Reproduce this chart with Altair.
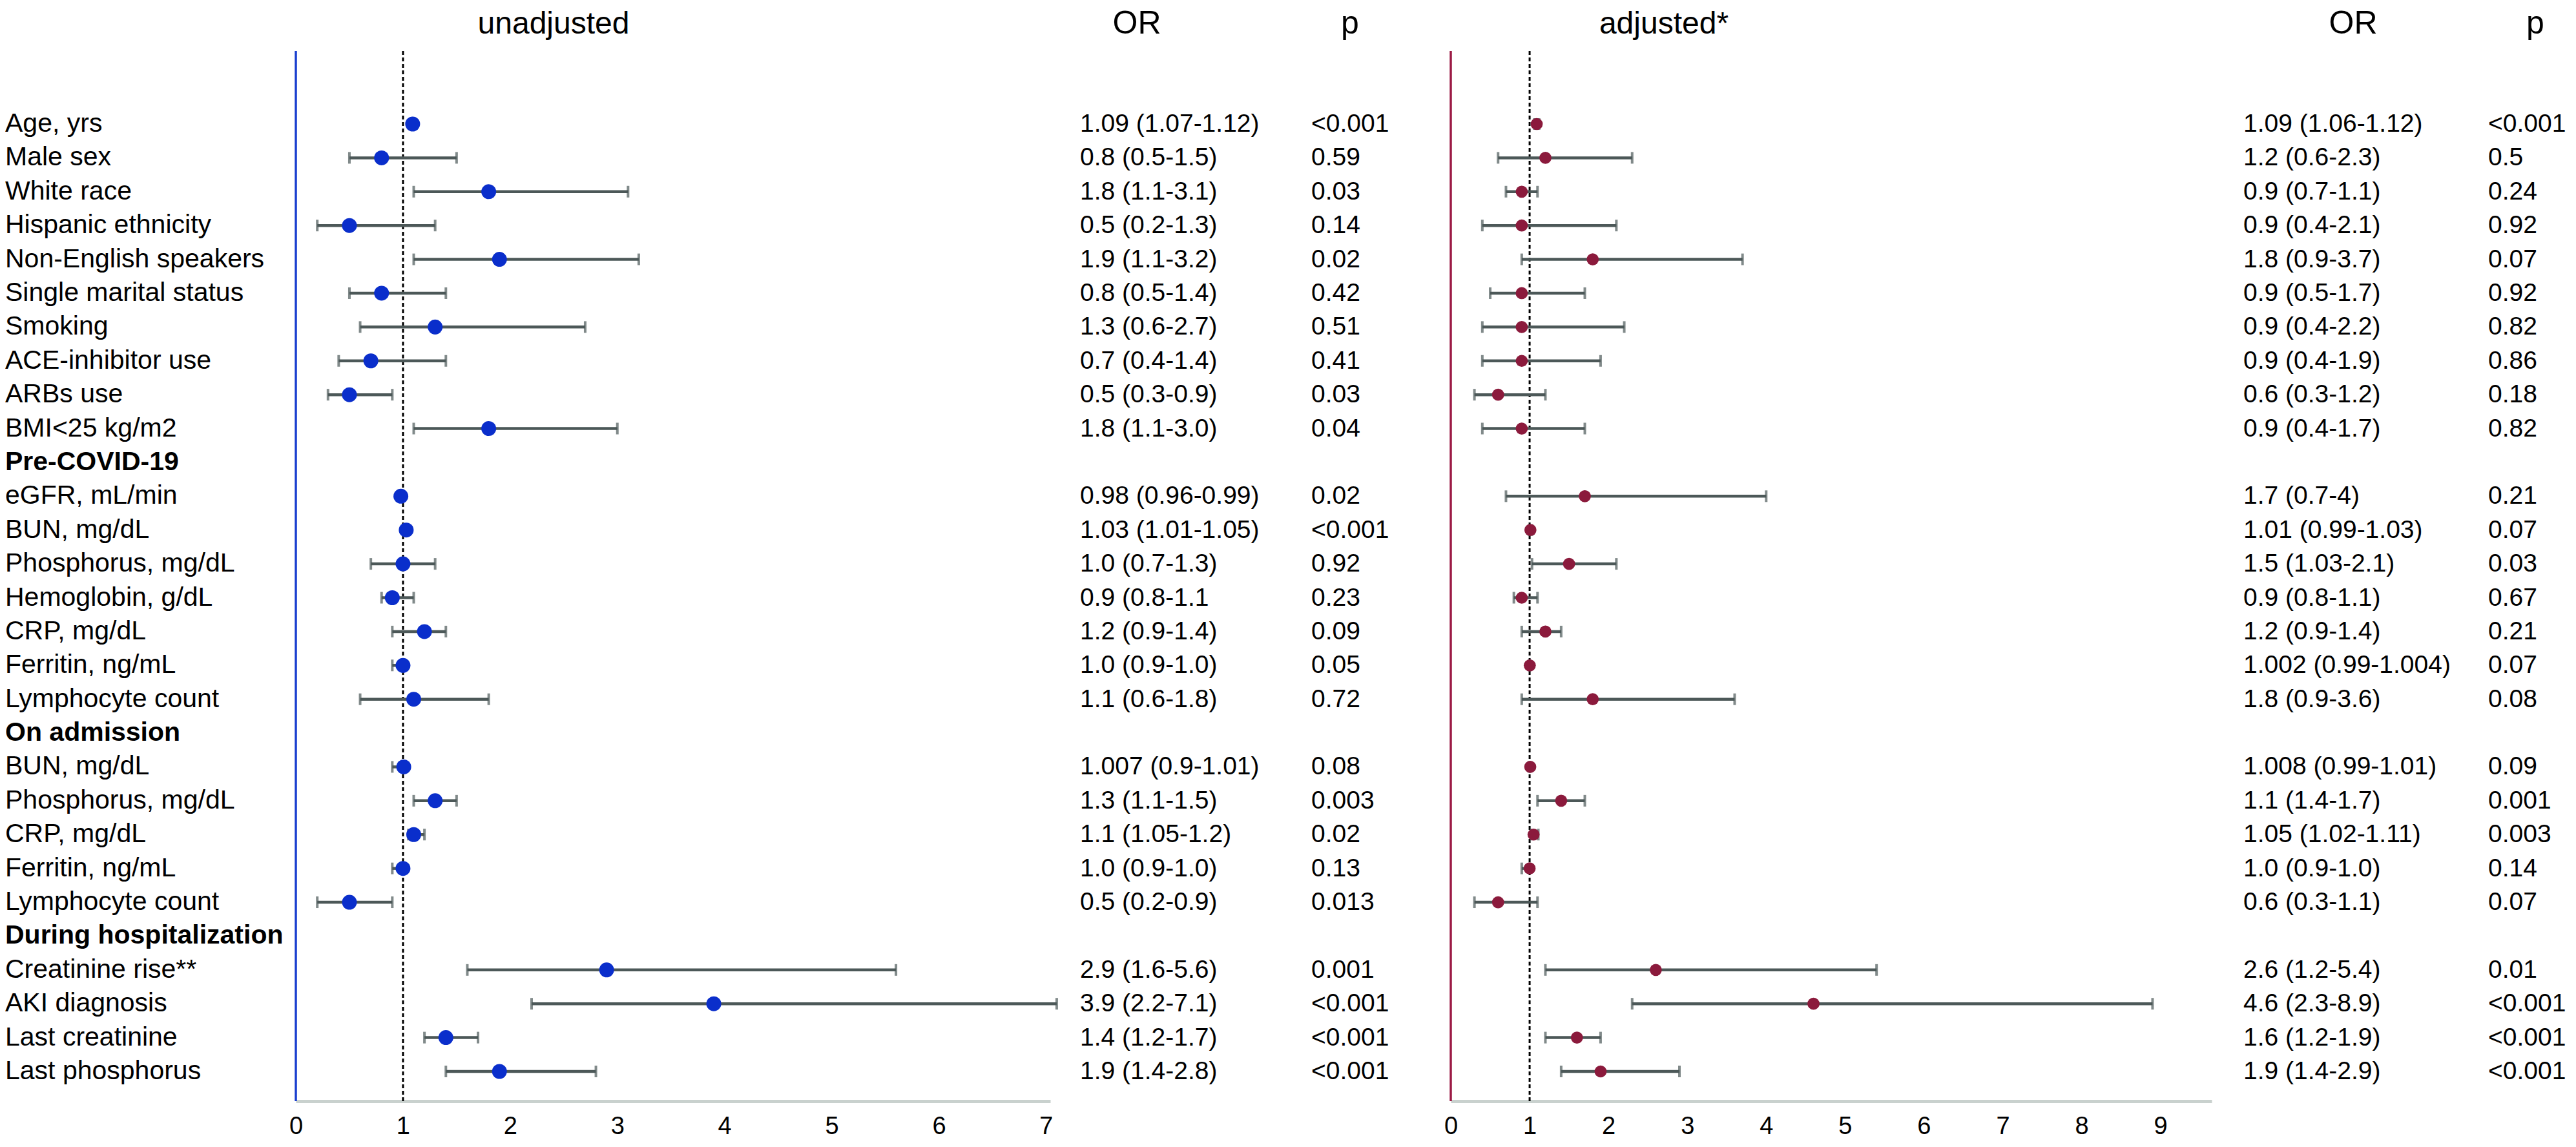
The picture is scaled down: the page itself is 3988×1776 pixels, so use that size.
import altair as alt
import pandas as pd

labels = ["Age, yrs", "Male sex", "White race", "Hispanic ethnicity", "Non-English speakers",
          "Single marital status", "Smoking", "ACE-inhibitor use", "ARBs use", "BMI<25 kg/m2",
          "Pre-COVID-19", "eGFR, mL/min", "BUN, mg/dL", "Phosphorus, mg/dL", "Hemoglobin, g/dL",
          "CRP, mg/dL", "Ferritin, ng/mL", "Lymphocyte count", "On admission", "BUN, mg/dL",
          "Phosphorus, mg/dL", "CRP, mg/dL", "Ferritin, ng/mL", "Lymphocyte count",
          "During hospitalization", "Creatinine rise**", "AKI diagnosis", "Last creatinine",
          "Last phosphorus"]
is_header = [0]*10 + [1] + [0]*7 + [1] + [0]*5 + [1] + [0]*4

N = None
u_or = [1.09, 0.8, 1.8, 0.5, 1.9, 0.8, 1.3, 0.7, 0.5, 1.8, N, 0.98, 1.03, 1.0, 0.9, 1.2, 1.0, 1.1,
        N, 1.007, 1.3, 1.1, 1.0, 0.5, N, 2.9, 3.9, 1.4, 1.9]
u_lo = [1.07, 0.5, 1.1, 0.2, 1.1, 0.5, 0.6, 0.4, 0.3, 1.1, N, 0.96, 1.01, 0.7, 0.8, 0.9, 0.9, 0.6,
        N, 0.9, 1.1, 1.05, 0.9, 0.2, N, 1.6, 2.2, 1.2, 1.4]
u_hi = [1.12, 1.5, 3.1, 1.3, 3.2, 1.4, 2.7, 1.4, 0.9, 3.0, N, 0.99, 1.05, 1.3, 1.1, 1.4, 1.0, 1.8,
        N, 1.01, 1.5, 1.2, 1.0, 0.9, N, 5.6, 7.1, 1.7, 2.8]
u_txt = ["1.09 (1.07-1.12)", "0.8 (0.5-1.5)", "1.8 (1.1-3.1)", "0.5 (0.2-1.3)", "1.9 (1.1-3.2)",
         "0.8 (0.5-1.4)", "1.3 (0.6-2.7)", "0.7 (0.4-1.4)", "0.5 (0.3-0.9)", "1.8 (1.1-3.0)", "",
         "0.98 (0.96-0.99)", "1.03 (1.01-1.05)", "1.0 (0.7-1.3)", "0.9 (0.8-1.1", "1.2 (0.9-1.4)",
         "1.0 (0.9-1.0)", "1.1 (0.6-1.8)", "", "1.007 (0.9-1.01)", "1.3 (1.1-1.5)", "1.1 (1.05-1.2)",
         "1.0 (0.9-1.0)", "0.5 (0.2-0.9)", "", "2.9 (1.6-5.6)", "3.9 (2.2-7.1)", "1.4 (1.2-1.7)",
         "1.9 (1.4-2.8)"]
u_p = ["<0.001", "0.59", "0.03", "0.14", "0.02", "0.42", "0.51", "0.41", "0.03", "0.04", "",
       "0.02", "<0.001", "0.92", "0.23", "0.09", "0.05", "0.72", "", "0.08", "0.003", "0.02", "0.13",
       "0.013", "", "0.001", "<0.001", "<0.001", "<0.001"]

a_or = [1.09, 1.2, 0.9, 0.9, 1.8, 0.9, 0.9, 0.9, 0.6, 0.9, N, 1.7, 1.01, 1.5, 0.9, 1.2, 1.002, 1.8,
        N, 1.008, 1.4, 1.05, 1.0, 0.6, N, 2.6, 4.6, 1.6, 1.9]
a_lo = [1.06, 0.6, 0.7, 0.4, 0.9, 0.5, 0.4, 0.4, 0.3, 0.4, N, 0.7, 0.99, 1.03, 0.8, 0.9, 0.99, 0.9,
        N, 0.99, 1.1, 1.02, 0.9, 0.3, N, 1.2, 2.3, 1.2, 1.4]
a_hi = [1.12, 2.3, 1.1, 2.1, 3.7, 1.7, 2.2, 1.9, 1.2, 1.7, N, 4.0, 1.03, 2.1, 1.1, 1.4, 1.004, 3.6,
        N, 1.01, 1.7, 1.11, 1.0, 1.1, N, 5.4, 8.9, 1.9, 2.9]
a_txt = ["1.09 (1.06-1.12)", "1.2 (0.6-2.3)", "0.9 (0.7-1.1)", "0.9 (0.4-2.1)", "1.8 (0.9-3.7)",
         "0.9 (0.5-1.7)", "0.9 (0.4-2.2)", "0.9 (0.4-1.9)", "0.6 (0.3-1.2)", "0.9 (0.4-1.7)", "",
         "1.7 (0.7-4)", "1.01 (0.99-1.03)", "1.5 (1.03-2.1)", "0.9 (0.8-1.1)", "1.2 (0.9-1.4)",
         "1.002 (0.99-1.004)", "1.8 (0.9-3.6)", "", "1.008 (0.99-1.01)", "1.1 (1.4-1.7)",
         "1.05 (1.02-1.11)", "1.0 (0.9-1.0)", "0.6 (0.3-1.1)", "", "2.6 (1.2-5.4)", "4.6 (2.3-8.9)",
         "1.6 (1.2-1.9)", "1.9 (1.4-2.9)"]
a_p = ["<0.001", "0.5", "0.24", "0.92", "0.07", "0.92", "0.82", "0.86", "0.18", "0.82", "", "0.21",
       "0.07", "0.03", "0.67", "0.21", "0.07", "0.08", "", "0.09", "0.001", "0.003", "0.14", "0.07",
       "", "0.01", "<0.001", "<0.001", "<0.001"]

u_ticks = [0, 1, 2, 3, 4, 5, 6, 7]
a_ticks = [0, 1, 2, 3, 4, 5, 6, 7, 8, 9]

rows = list(range(len(labels)))
df = pd.DataFrame({
    "row": rows, "label": labels, "hdr": is_header,
    "u_or": u_or, "u_lo": u_lo, "u_hi": u_hi, "u_txt": u_txt, "u_p": u_p,
    "a_or": a_or, "a_lo": a_lo, "a_hi": a_hi, "a_txt": a_txt, "a_p": a_p,
})
one = pd.DataFrame({"k": [0]})

FONT = "Liberation Sans"
H = 1626
BAR = "#4c5858"
HEAD_Y = -27


def panel(pref, color, line_color, dot_size, xmax, rng, ticks, width, title, title_x,
          or_x, p_x, orh_x, ph_x, with_labels):
    y = alt.Y("row:Q", scale=alt.Scale(domain=[-2.157, 28.878], reverse=True, nice=False,
                                       zero=False), axis=None)
    xs = alt.Scale(domain=[0, xmax], range=[0, rng], nice=False, zero=False)
    xax = alt.Axis(values=ticks, ticks=False, grid=False, domainColor="#c9d1ce", domainWidth=5,
                   labelFont=FONT, labelFontSize=38, labelColor="black", labelPadding=20,
                   labelFlush=False, format="d")
    base = alt.Chart(df)
    vline = alt.Chart(one).mark_rule(color=line_color, strokeWidth=3.5).encode(
        x=alt.X("k:Q", scale=xs, axis=xax, title=None))
    dotted = alt.Chart(one).mark_rule(color="black", strokeWidth=3, strokeDash=[6, 4]).encode(
        x=alt.datum(1))
    err = base.mark_rule(color=BAR, strokeWidth=4.5).encode(
        x=alt.X(f"{pref}_lo:Q", scale=xs, title=None), x2=f"{pref}_hi:Q", y=y)
    cap_lo = base.mark_tick(color=BAR, thickness=4, size=18, orient="vertical").encode(
        x=alt.X(f"{pref}_lo:Q", scale=xs, title=None), y=y)
    cap_hi = base.mark_tick(color=BAR, thickness=4, size=18, orient="vertical").encode(
        x=alt.X(f"{pref}_hi:Q", scale=xs, title=None), y=y)
    dots = base.mark_circle(color=color, opacity=1, size=dot_size).encode(
        x=alt.X(f"{pref}_or:Q", scale=xs, title=None), y=y)
    ortext = base.mark_text(align="left", baseline="middle", font=FONT, fontSize=39,
                            color="black").encode(x=alt.value(or_x), y=y, text=f"{pref}_txt:N")
    ptext = base.mark_text(align="left", baseline="middle", font=FONT, fontSize=39,
                           color="black").encode(x=alt.value(p_x), y=y, text=f"{pref}_p:N")
    t_title = alt.Chart(one).mark_text(text=title, align="center", baseline="alphabetic",
                                       font=FONT, fontSize=48, color="black").encode(
        x=alt.value(title_x), y=alt.value(HEAD_Y))
    t_or = alt.Chart(one).mark_text(text="OR", align="center", baseline="alphabetic",
                                    font=FONT, fontSize=50, color="black").encode(
        x=alt.value(orh_x), y=alt.value(HEAD_Y))
    t_p = alt.Chart(one).mark_text(text="p", align="center", baseline="alphabetic",
                                   font=FONT, fontSize=50, color="black").encode(
        x=alt.value(ph_x), y=alt.value(HEAD_Y))
    layers = [vline, dotted, err, cap_lo, cap_hi, dots, ortext, ptext, t_title, t_or, t_p]
    if with_labels:
        lab = base.transform_filter("datum.hdr == 0").mark_text(
            align="left", baseline="middle", font=FONT, fontSize=41, color="black").encode(
            x=alt.value(-450), y=y, text="label:N")
        lab_b = base.transform_filter("datum.hdr == 1").mark_text(
            align="left", baseline="middle", font=FONT, fontSize=41, fontWeight="bold",
            color="black").encode(x=alt.value(-450), y=y, text="label:N")
        layers += [lab, lab_b]
    return alt.layer(*layers).properties(width=width, height=H)


left = panel("u", "#0a2ecb", "#1a3fcf", 530, 7.04, 1168, u_ticks, 1777, "unadjusted", 399,
             1214, 1572, 1302, 1632, True)
right = panel("a", "#8b1a3c", "#9b1b45", 350, 9.65, 1178, a_ticks, 1715, "adjusted*", 330,
              1227, 1606, 1397, 1679, False)

chart = alt.hconcat(left, right, spacing=0).properties(
    padding={"top": 4, "left": 0, "right": 0, "bottom": 0}).configure_view(stroke=None)
chart.save("out.html", embed_options={"renderer": "svg", "actions": False})
